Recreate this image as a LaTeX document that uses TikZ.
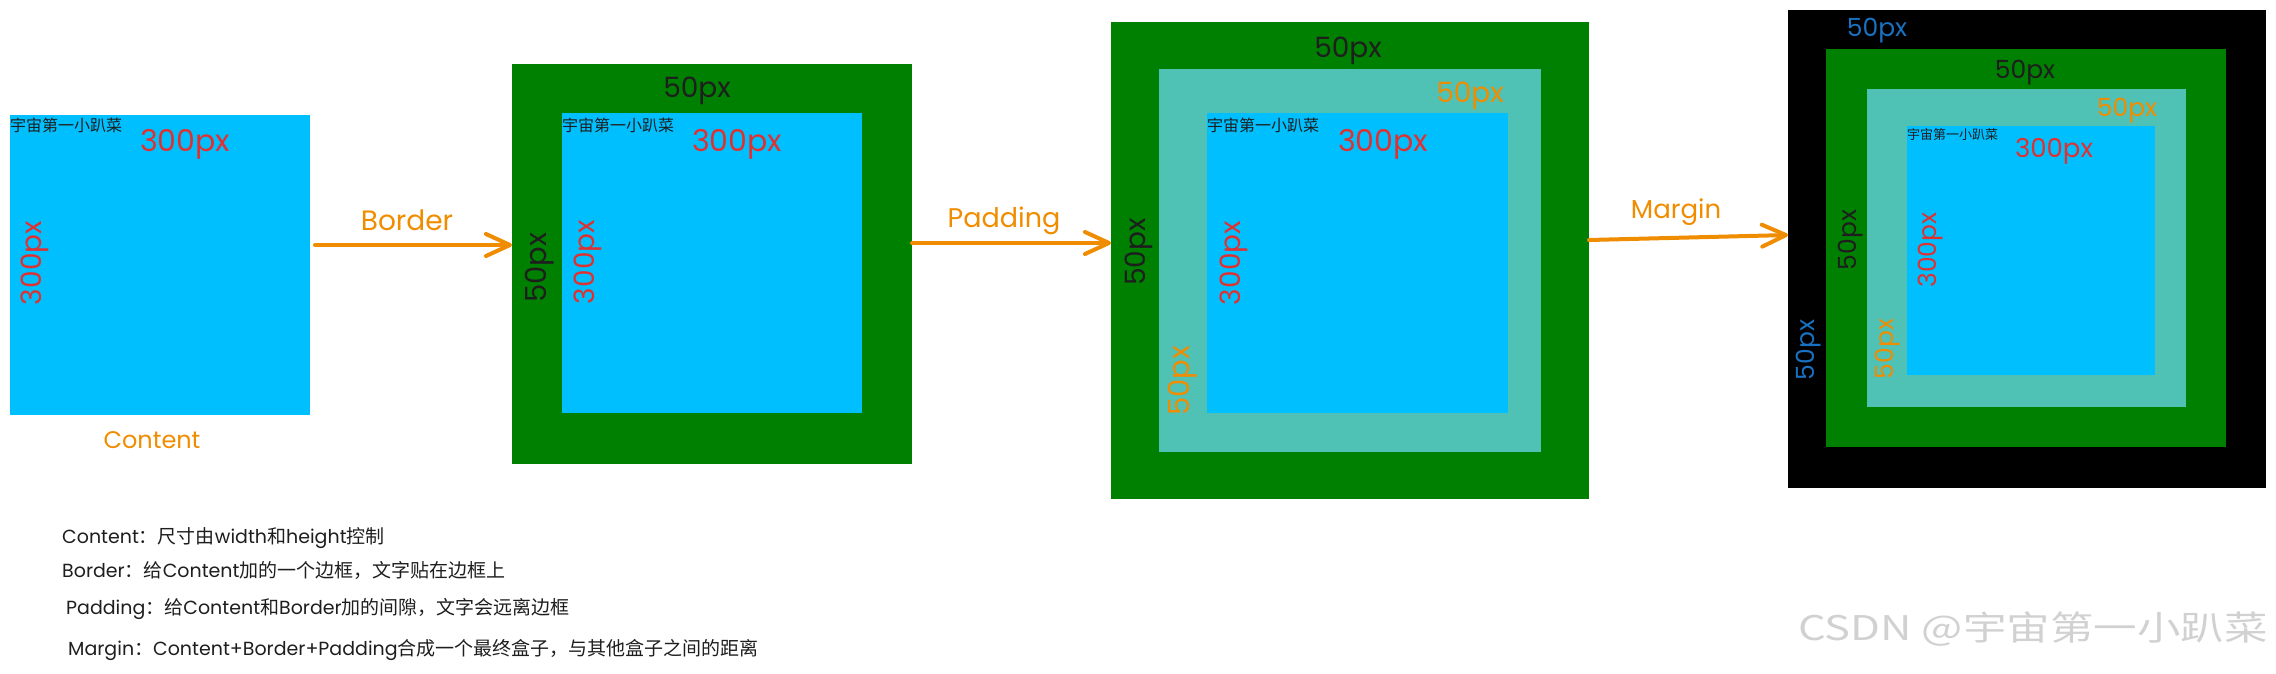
\documentclass[tikz,border=0pt]{standalone}
\usepackage{fontspec}
\newfontfamily\hand{Poppins}
\newfontfamily\cjk{Noto Sans CJK SC}
\usetikzlibrary{arrows.meta}
\definecolor{cblue}{HTML}{00BFFF}
\definecolor{bgreen}{HTML}{008000}
\definecolor{pteal}{HTML}{50C2B5}
\definecolor{hred}{HTML}{E03131}
\definecolor{horange}{HTML}{F08C00}
\definecolor{hblue}{HTML}{1971C2}
\definecolor{hblack}{HTML}{1E1E1E}

\begin{document}
\begin{tikzpicture}[x=1pt, y=-1pt,
  box/.style={rectangle, inner sep=0pt, outer sep=0pt},
  px/.style={inner sep=0pt, font={\hand\fontsize{#1}{#1}\selectfont}},
  tag/.style={inner sep=0pt, anchor=west, text=hblack, font={\cjk\fontsize{#1}{#1}\selectfont}},
  note/.style={inner sep=0pt, anchor=west, text=hblack, font={\cjk\fontsize{19}{19}\selectfont}},
  flow/.style={->, >={Straight Barb[length=24pt, width=22pt, round]}, line width=4pt, line cap=round, horange}]
\useasboundingbox (0,0) rectangle (2276,673);

% boxes
\node [box, fill=cblue, minimum width=300, minimum height=300] (c1) at (160,265) {};

\node [box, fill=bgreen, minimum width=400, minimum height=400] (b2) at (712,264) {};
\node [box, fill=cblue, minimum width=300, minimum height=300] (c2) at (712,263) {};

\node [box, fill=bgreen, minimum width=478, minimum height=477] (b3) at (1350,260.5) {};
\node [box, fill=pteal, minimum width=382, minimum height=383] (p3) at (1350,260.5) {};
\node [box, fill=cblue, minimum width=301, minimum height=300] (c3) at (1357.5,263) {};

\node [box, fill=black, minimum width=478, minimum height=478] (m4) at (2027,249) {};
\node [box, fill=bgreen, minimum width=400, minimum height=398] (b4) at (2026,248) {};
\node [box, fill=pteal, minimum width=319, minimum height=318] (p4) at (2026.5,248) {};
\node [box, fill=cblue, minimum width=248, minimum height=249] (c4) at (2031,250.5) {};

% text in the boxes
\node [tag=16] (ch1) at (10,125) {宇宙第一小趴菜};
\node [px=30, text=hred] (r1) at (185,144) {300px};
\node [px=28, text=hred, rotate=90] (v1) at (35,263) {300px};
\node [px=24, text=horange] (tcontent) at (152,440) {Content};

\node [tag=16] (ch2) at (562,125) {宇宙第一小趴菜};
\node [px=28, text=hblack] (t2) at (697,91) {50px};
\node [px=30, text=hred] (r2) at (737,144) {300px};
\node [px=29, text=hblack, rotate=90] (v2a) at (540,268) {50px};
\node [px=28, text=hred, rotate=90] (v2b) at (588,262) {300px};

\node [tag=16] (ch3) at (1207,125) {宇宙第一小趴菜};
\node [px=28, text=hblack] (t3) at (1348,51) {50px};
\node [px=28, text=horange] (t3o) at (1470,96) {50px};
\node [px=30, text=hred] (r3) at (1383,144) {300px};
\node [px=28, text=hblack, rotate=90] (v3a) at (1139,252) {50px};
\node [px=28, text=hred, rotate=90] (v3b) at (1234,263) {300px};
\node [px=29, text=horange, rotate=90] (v3c) at (1183,381) {50px};

\node [tag=13] (ch4) at (1907,135) {宇宙第一小趴菜};
\node [px=25, text=hblue] (t4) at (1877,31) {50px};
\node [px=25, text=hblack] (t4k) at (2025,73) {50px};
\node [px=25, text=horange] (t4o) at (2127,111) {50px};
\node [px=26, text=hred] (r4) at (2054,151) {300px};
\node [px=25, text=hblack, rotate=90] (v4a) at (1851,240) {50px};
\node [px=25, text=hred, rotate=90] (v4b) at (1931,250) {300px};
\node [px=25, text=hblue, rotate=90] (v4c) at (1809,350) {50px};
\node [px=25, text=horange, rotate=90] (v4d) at (1888,349) {50px};

% arrows
\node [px=28, text=horange] (tborder) at (407,220) {Border};
\node [px=27, text=horange] (tpadding) at (1004,221) {Padding};
\node [px=26, text=horange] (tmargin) at (1676,212) {Margin};
\draw [flow] ([xshift=5pt, yshift=20pt]c1.east) -- ([yshift=19pt]b2.west);
\draw [flow] ([yshift=21pt]b2.east) -- ([yshift=17.5pt]b3.west);
\draw [flow] ([yshift=20.5pt]b3.east) -- ([yshift=14pt]m4.west);

% notes
\node [note] (n1) at (62,538) {{\hand Content}：尺寸由{\hand width}和{\hand height}控制};
\node [note] (n2) at (62,570) {{\hand Border}：给{\hand Content}加的一个边框，文字贴在边框上};
\node [note] (n3) at (66,609) {{\hand Padding}：给{\hand Content}和{\hand Border}加的间隙，文字会远离边框};
\node [note] (n4) at (68,650) {{\hand Margin}：{\hand Content+Border+Padding}合成一个最终盒子，与其他盒子之间的距离};

\node [inner sep=0pt, text=black!18, font={\cjk\fontsize{34}{34}\selectfont}] (wm) at (2033,629) {\scalebox{1.28}[1]{CSDN @宇宙第一小趴菜}};
\end{tikzpicture}
\end{document}
